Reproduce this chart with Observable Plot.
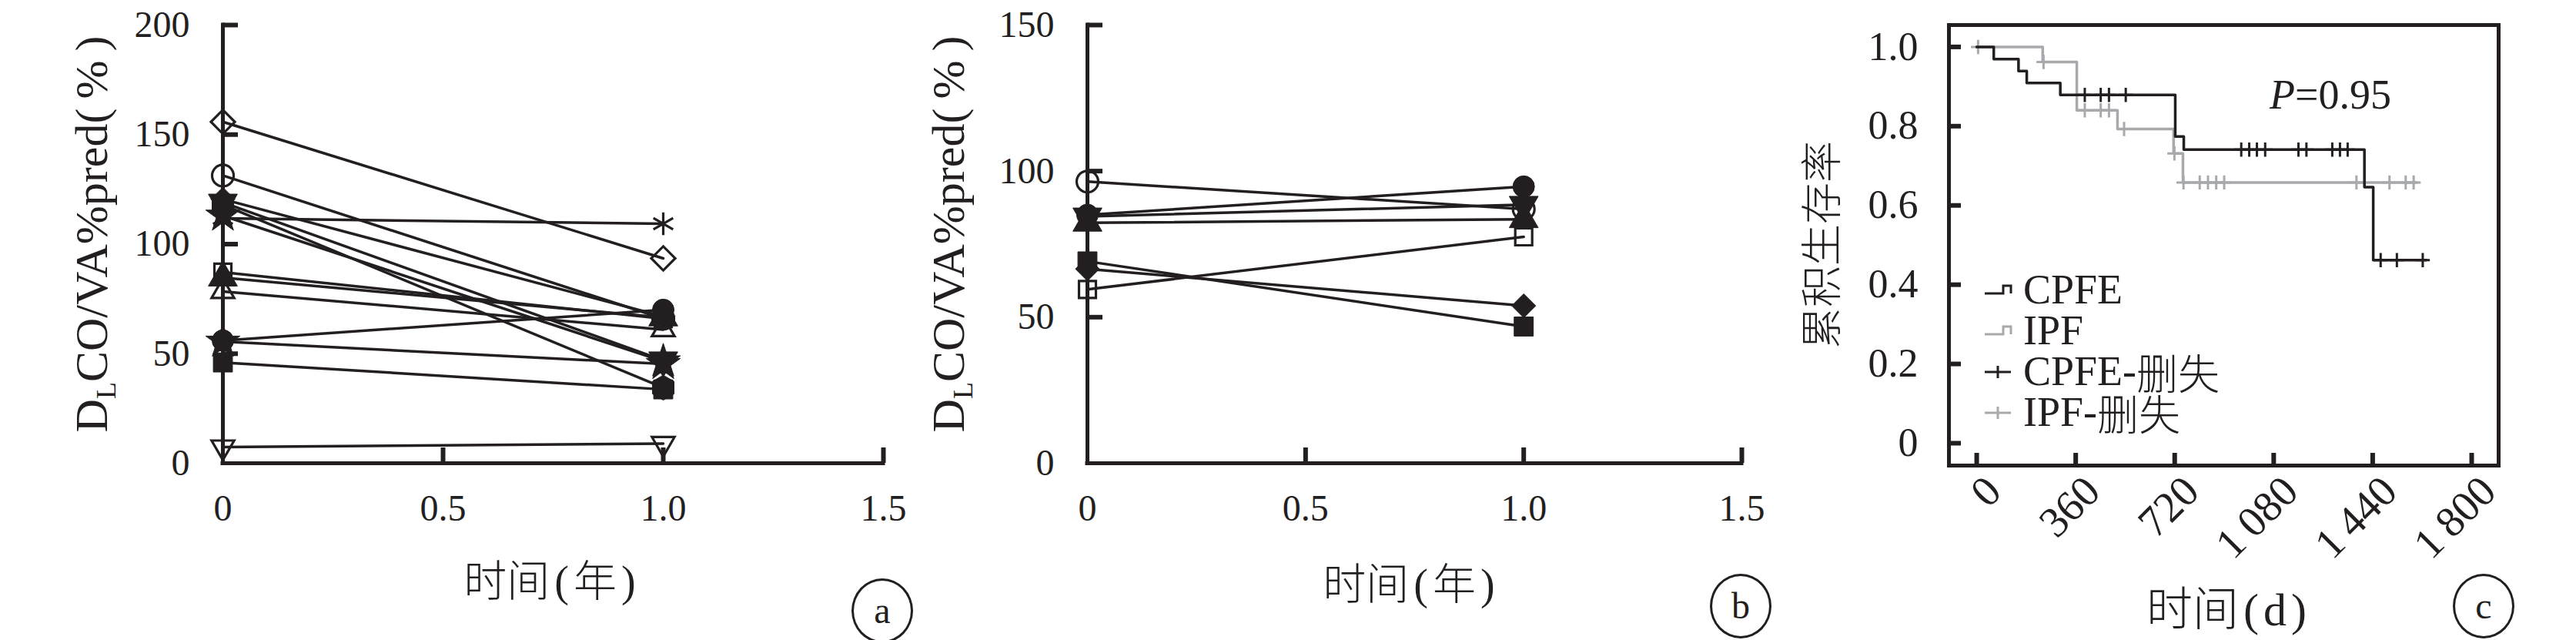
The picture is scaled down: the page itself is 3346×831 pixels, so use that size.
<!DOCTYPE html>
<html><head><meta charset="utf-8">
<script src="https://cdn.jsdelivr.net/npm/d3@7"></script>
<script src="https://cdn.jsdelivr.net/npm/@observablehq/plot@0.6"></script>
<style>
body{margin:0;background:#fff;}
#root{position:relative;width:3346px;height:831px;overflow:hidden;background:#fff;color:#231f20;font-family:"Liberation Serif","Noto Sans CJK SC",serif;}
.panel{position:absolute;top:0;}
.ytitle{position:absolute;white-space:nowrap;transform:translate(-50%,-50%) rotate(-90deg);line-height:1;}
.xtitle{position:absolute;white-space:nowrap;transform:translate(-50%,-50%);line-height:1;}
.cjk{font-family:"Noto Sans CJK SC",sans-serif;font-weight:300;}
sub{font-size:60%;vertical-align:-0.3em;line-height:0;}
.tag{position:absolute;width:74px;height:78px;border:3px solid #231f20;border-radius:50%;transform:translate(-50%,-50%);display:flex;align-items:center;justify-content:center;font-size:48px;line-height:1;}
.legend{position:absolute;left:2578px;top:350px;font-size:54px;line-height:53px;}
.legend div{display:flex;align-items:center;height:53px;}
.legend svg{width:36px;height:24px;margin-right:14px;overflow:visible;}
.pval{position:absolute;left:2948px;top:96px;font-size:54px;line-height:1;}
.par{font-family:"Liberation Serif",serif;margin:0 6px;}
</style>
</head><body><div id="root"></div>
<script>
// ---------- data: panel a (CPFE) ----------
const timeLabels = ["0", "0.5", "1.0", "1.5"];
const timeTicks = [0, 0.5, 1.0, 1.5];
const aMarker = ["openDiamond","openCircle","filledDiamond","filledDownTriangle","filledHexagon","filledStar","asterisk","openSquare","filledTriangle","openTriangle","filledCircle","filledStar","filledSquare","openDownTriangle"];
const aBaseline = [155.8, 131.3, 120.5, 119, 118, 113, 111.8, 87.2, 84.7, 78.4, 56, 55.5, 46, 7.4];
const aYear1    = [93.5, 66, 67, 47, 34.5, 46.5, 109.3, 66, 66.5, 61, 70, 45.3, 33.7, 9];
const aYTicks = [0, 50, 100, 150, 200];
// ---------- data: panel b (IPF) ----------
const bMarker = ["openCircle","filledCircle","filledDownTriangle","filledTriangle","filledSquare","filledDiamond","openSquare"];
const bBaseline = [96.4, 85, 84.5, 82.3, 69.1, 66.5, 59.5];
const bYear1    = [87, 94.7, 88.5, 83.5, 46.8, 53.9, 77.5];
const bYTicks = [0, 50, 100, 150];
// ---------- data: panel c (Kaplan-Meier) ----------
const cpfeDays = [0, 62, 152, 182, 304, 722, 753, 1410, 1442, 1635];
const cpfeSurv = [1, 0.969, 0.939, 0.909, 0.879, 0.774, 0.741, 0.646, 0.462, 0.462];
const cpfeCensorDays = [393, 451, 481, 542, 962, 991, 1019, 1049, 1170, 1199, 1293, 1321, 1349, 1469, 1528, 1622];
const cpfeCensorSurv = [0.879, 0.879, 0.879, 0.879, 0.741, 0.741, 0.741, 0.741, 0.741, 0.741, 0.741, 0.741, 0.741, 0.462, 0.462, 0.462];
const ipfDays = [0, 240, 364, 512, 716, 750, 1602];
const ipfSurv = [1, 0.962, 0.840, 0.793, 0.731, 0.658, 0.658];
const ipfCensorDays = [5, 243, 393, 451, 481, 536, 719, 752, 811, 841, 871, 900, 1381, 1501, 1560, 1589];
const ipfCensorSurv = [1, 0.962, 0.840, 0.840, 0.840, 0.793, 0.731, 0.658, 0.658, 0.658, 0.658, 0.658, 0.658, 0.658, 0.658, 0.658];
const dayTicks = [0, 360, 720, 1080, 1440, 1800];
const dayLabels = ["0", "360", "720", "1\u2009080", "1\u2009440", "1\u2009800"];
const survTicks = [0, 0.2, 0.4, 0.6, 0.8, 1.0];
const survLabels = ["0", "0.2", "0.4", "0.6", "0.8", "1.0"];
const pText = "=0.95";

// ---------- styles ----------
const INK = "#231f20", GREY = "#a7a9ac";
const FONT = "'Liberation Serif', 'Noto Sans CJK SC', serif";
const markerStyle = {
  openDiamond: {symbol: "diamond2", fill: "none"},
  openCircle: {symbol: "circle", fill: "none"},
  filledDiamond: {symbol: "diamond2", fill: INK},
  filledDownTriangle: {symbol: "triangle", fill: INK, rotate: 180},
  filledHexagon: {symbol: "hexagon", fill: INK},
  filledStar: {symbol: "star", fill: INK},
  asterisk: {symbol: "asterisk", fill: "none"},
  openSquare: {symbol: "square2", fill: "none"},
  filledTriangle: {symbol: "triangle", fill: INK},
  openTriangle: {symbol: "triangle2", fill: "none"},
  filledCircle: {symbol: "circle", fill: INK},
  filledSquare: {symbol: "square", fill: INK},
  openDownTriangle: {symbol: "triangle2", fill: "none", rotate: 180}
};

function pairRows(markers, v0, v1) {
  const rows = [];
  markers.forEach((m, i) => {
    rows.push({id: i, m, t: 0, v: v0[i]});
    rows.push({id: i, m, t: 1, v: v1[i]});
  });
  return rows;
}

function pairedPlot(rows, yTicks, yMax, w, ml, mr) {
  const mt = 32, mb = 230, tickPx = 20;
  const fw = w - ml - mr, fh = 831 - mt - mb;
  const xLen = 1.5 * tickPx / fw, yLen = yMax * tickPx / fh;  // tick length in data units
  const types = Array.from(new Set(rows.map(d => d.m)));
  const dotMarks = types.map(t => {
    const s = markerStyle[t];
    return Plot.dot(rows.filter(d => d.m === t), {
      x: "t", y: "v", symbol: s.symbol, r: 14,
      fill: s.fill, stroke: INK, strokeWidth: s.fill === "none" ? 3.2 : 1,
      rotate: s.rotate || 0
    });
  });
  return Plot.plot({
    width: w, height: 831,
    marginLeft: ml, marginRight: mr, marginTop: mt, marginBottom: mb,
    x: {domain: [0, 1.5]},
    y: {domain: [0, yMax]},
    style: {fontFamily: FONT, fontSize: "48px", color: INK, background: "transparent", overflow: "visible"},
    marks: [
      Plot.line(rows, {x: "t", y: "v", z: "id", stroke: INK, strokeWidth: 3.5}),
      ...dotMarks,
      Plot.ruleX([0], {stroke: INK, strokeWidth: 5, strokeLinecap: "square"}),
      Plot.ruleY([0], {stroke: INK, strokeWidth: 5, strokeLinecap: "square"}),
      Plot.ruleY(yTicks.filter(d => d > 0), {y: d => d, x1: 0, x2: xLen, stroke: INK, strokeWidth: 6}),
      Plot.ruleX(timeTicks.filter(d => d > 0), {x: d => d, y1: 0, y2: yLen, stroke: INK, strokeWidth: 6}),
      Plot.axisY(yTicks, {tickSize: 0, tickPadding: 43, label: null, tickFormat: d => String(d)}),
      Plot.axisX(timeTicks, {tickSize: 0, tickPadding: 40, label: null, tickFormat: d => timeLabels[timeTicks.indexOf(d)]})
    ]
  });
}

const root = document.getElementById("root");
function place(el, left) { el.classList.add("panel"); el.style.left = left + "px"; root.appendChild(el); }

place(pairedPlot(pairRows(aMarker, aBaseline, aYear1), aYTicks, 200, 1200, 289, 53), 0);
place(pairedPlot(pairRows(bMarker, bBaseline, bYear1), bYTicks, 150, 1100, 212, 38), 1200);

// ---------- panel c ----------
const kmRows = [
  ...ipfDays.map((t, i) => ({g: "IPF", t, s: ipfSurv[i]})),
  ...cpfeDays.map((t, i) => ({g: "CPFE", t, s: cpfeSurv[i]}))
];
const censorRows = [
  ...ipfCensorDays.map((t, i) => ({g: "IPF", t, s: ipfCensorSurv[i]})),
  ...cpfeCensorDays.map((t, i) => ({g: "CPFE", t, s: cpfeCensorSurv[i]}))
];
const cW = 1046, cML = 231, cMR = 101, cMT = 32, cMB = 227;
const cX = [-101, 1898], cY = [-0.0564, 1.0552];
const cXLen = (cX[1] - cX[0]) * 16 / (cW - cML - cMR);
const cYLen = (cY[1] - cY[0]) * 16 / (831 - cMT - cMB);
const plotC = Plot.plot({
  width: cW, height: 831,
  marginLeft: cML, marginRight: cMR, marginTop: cMT, marginBottom: cMB,
  x: {domain: cX},
  y: {domain: cY},
  style: {fontFamily: FONT, fontSize: "52px", color: INK, background: "transparent", overflow: "visible"},
  marks: [
    Plot.line(kmRows.filter(d => d.g === "IPF"), {x: "t", y: "s", curve: "step-after", stroke: GREY, strokeWidth: 3.5}),
    Plot.dot(censorRows.filter(d => d.g === "IPF"), {x: "t", y: "s", symbol: "plus", r: 6, stroke: GREY, strokeWidth: 3}),
    Plot.line(kmRows.filter(d => d.g === "CPFE"), {x: "t", y: "s", curve: "step-after", stroke: INK, strokeWidth: 3.5}),
    Plot.dot(censorRows.filter(d => d.g === "CPFE"), {x: "t", y: "s", symbol: "plus", r: 6, stroke: INK, strokeWidth: 3}),
    Plot.frame({stroke: INK, strokeWidth: 5}),
    Plot.ruleY(survTicks, {y: d => d, x1: cX[0], x2: cX[0] + cXLen, stroke: INK, strokeWidth: 6}),
    Plot.ruleX(dayTicks, {x: d => d, y1: cY[0], y2: cY[0] + cYLen, stroke: INK, strokeWidth: 6}),
    Plot.axisY(survTicks, {tickSize: 0, tickPadding: 40, label: null, tickFormat: d => survLabels[survTicks.indexOf(d)]}),
    Plot.axisX(dayTicks, {tickSize: 0, tickPadding: 24, dx: 22, tickRotate: -45, fontSize: 56, label: null, tickFormat: d => dayLabels[dayTicks.indexOf(d)]})
  ]
});
place(plotC, 2300);

// ---------- text overlays ----------
const yTitleA = `D<sub>L</sub>CO/VA%pred(\u2009%\u2009)`;
const html = `
<div class="ytitle" style="left:119px;top:304px;font-size:60px;">${yTitleA}</div>
<div class="ytitle" style="left:1232px;top:304px;font-size:60px;">${yTitleA}</div>
<div class="ytitle cjk" style="left:2363px;top:318px;font-size:54px;">累积生存率</div>
<div class="xtitle cjk" style="left:717px;top:752px;font-size:56px;">时间<span class="par">(</span>年<span class="par">)</span></div>
<div class="xtitle cjk" style="left:1833px;top:756px;font-size:56px;">时间<span class="par">(</span>年<span class="par">)</span></div>
<div class="xtitle cjk" style="left:2895px;top:789px;font-size:60px;">时间<span class="par">(</span><span class="par" style="margin:0">d</span><span class="par">)</span></div>
<div class="tag" style="left:1146px;top:793px;">a</div>
<div class="tag" style="left:2261px;top:787px;">b</div>
<div class="tag" style="left:3226px;top:787px;">c</div>
<div class="pval"><i>P</i>${pText}</div>
<div class="legend">
  <div><svg viewBox="0 0 36 24"><path d="M0 16 H24 V6 H34 V16" fill="none" stroke="${INK}" stroke-width="3"/></svg>CPFE</div>
  <div><svg viewBox="0 0 36 24"><path d="M0 16 H24 V6 H34 V16" fill="none" stroke="${GREY}" stroke-width="3"/></svg>IPF</div>
  <div><svg viewBox="0 0 36 24"><path d="M0 12 H34 M17 4 V20" fill="none" stroke="${INK}" stroke-width="3"/></svg>CPFE-<span class="cjk">删失</span></div>
  <div><svg viewBox="0 0 36 24"><path d="M0 12 H34 M17 4 V20" fill="none" stroke="${GREY}" stroke-width="3"/></svg>IPF-<span class="cjk">删失</span></div>
</div>`;
root.insertAdjacentHTML("beforeend", html);
</script>
</body></html>
